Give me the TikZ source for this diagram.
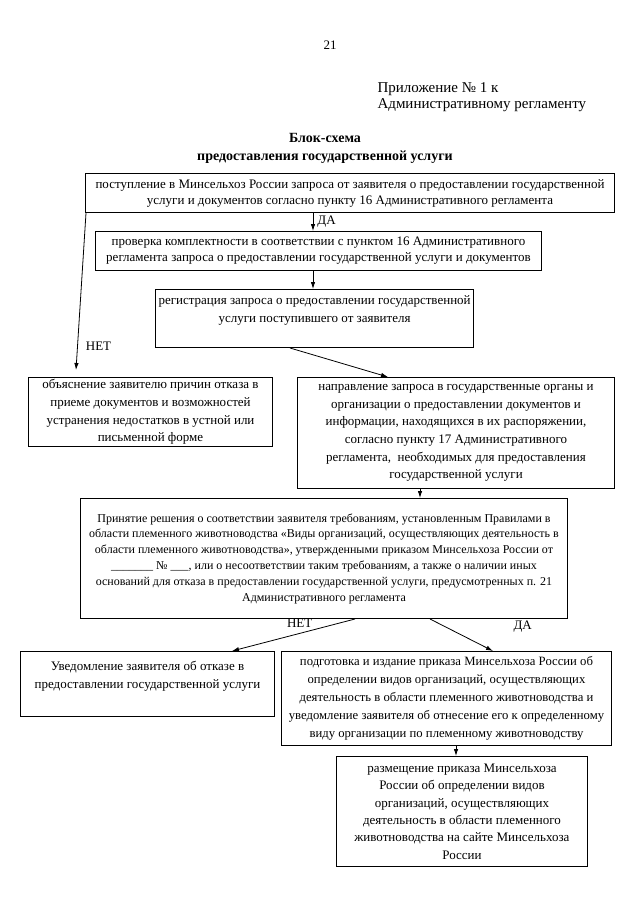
\documentclass[tikz,border=0pt]{standalone}
\usepackage{fontspec}
\setmainfont{Liberation Serif}
\usetikzlibrary{arrows.meta, calc}

\tikzset{
  blok/.style={draw, line width=1pt, align=center, anchor=north west, inner xsep=3pt, inner ysep=2pt},
  tekst/.style={font=\fontsize{13}{#1}\selectfont},
  strelka/.style={-{Latex[length=7pt,width=4.5pt]}, line width=.8pt},
  metka/.style={font=\fontsize{13}{15}\selectfont, inner sep=0pt},
}

\begin{document}
\begin{tikzpicture}[x=1pt, y=-1pt]
  \useasboundingbox (0,0) rectangle (640,905);

  % header
  \node[font=\fontsize{13}{15}\selectfont] (nomer) at (330,45) {21};
  \node[anchor=west, align=left, font=\fontsize{15}{15.5}\selectfont] (pril) at (374,97)
    {Приложение № 1 к\\Административному регламенту};
  \node[align=center, font=\bfseries\fontsize{14}{18}\selectfont] (zag) at (325,148)
    {Блок-схема\\предоставления государственной услуги};

  % blocks
  \node[blok, tekst=16, minimum width=529pt, minimum height=39pt] (b1) at (85,173)
    {поступление в Минсельхоз России запроса от заявителя о предоставлении государственной\\
     услуги и документов согласно пункту 16 Административного регламента};
  \node[blok, tekst=16, minimum width=446pt, minimum height=39pt] (b2) at (95,231)
    {проверка комплектности в соответствии с пунктом 16 Административного\\
     регламента запроса о предоставлении государственной услуги и документов};
  \node[blok, tekst=18, minimum width=317pt, minimum height=58pt] (b3) at (155,289)
    {регистрация запроса о предоставлении государственной\\
     услуги поступившего от заявителя\\ ~};
  \node[blok, tekst=17.7, minimum width=244pt, minimum height=67pt] (b4) at (28,377)
    {объяснение заявителю причин отказа в\\
     приеме документов и возможностей\\
     устранения недостатков в устной или\\
     письменной форме};
  \node[blok, tekst=17.6, minimum width=317pt, minimum height=111pt] (b5) at (297,377)
    {направление запроса в государственные органы и\\
     организации о предоставлении документов и\\
     информации, находящихся в их распоряжении,\\
     согласно пункту 17 Административного\\
     регламента,\ \ необходимых для предоставления\\
     государственной услуги};
  \node[blok, font=\fontsize{12}{15.8}\selectfont, minimum width=487pt, minimum height=120pt] (b6) at (80,498)
    {Принятие решения о соответствии заявителя требованиям, установленным Правилами в\\
     области племенного животноводства «Виды организаций, осуществляющих деятельность в\\
     области племенного животноводства», утвержденными приказом Минсельхоза России от\\
     \_\_\_\_\_\_\_ № \_\_\_, или о несоответствии таким требованиям, а также о наличии иных\\
     оснований для отказа в предоставлении государственной услуги, предусмотренных п. 21\\
     Административного регламента};
  \node[blok, tekst=18, minimum width=254pt, minimum height=65pt] (b7) at (20,651)
    {Уведомление заявителя об отказе в\\
     предоставлении государственной услуги\\ ~};
  \node[blok, font=\fontsize{12.7}{18}\selectfont, minimum width=330pt, minimum height=94pt] (b8) at (281,651)
    {подготовка и издание приказа Минсельхоза России об\\
     определении видов организаций, осуществляющих\\
     деятельность в области племенного животноводства и\\
     уведомление заявителя об отнесение его к определенному\\
     виду организации по племенному животноводству};
  \node[blok, tekst=17.4, minimum width=251pt, minimum height=110pt] (b9) at (336,756)
    {размещение приказа Минсельхоза\\
     России об определении видов\\
     организаций, осуществляющих\\
     деятельность в области племенного\\
     животноводства на сайте Минсельхоза\\
     России};

  % connectors
  \draw[strelka] ([xshift=228pt]b1.south west) -- ([xshift=218pt]b2.north west)
    node[metka, anchor=west, pos=.5, xshift=4pt] (da1) {ДА};
  \draw[strelka] ([xshift=218pt]b2.south west) -- ([xshift=158pt]b3.north west);
  \draw[strelka] ([xshift=1pt]b1.south west) -- ([xshift=48pt, yshift=7pt]b4.north west)
    node[metka, anchor=west, pos=.85, xshift=8pt] (net1) {НЕТ};
  \draw[strelka] ([xshift=135pt]b3.south west) -- ([xshift=91pt]b5.north west);
  \draw[strelka] ([xshift=123pt]b5.south west) -- ([xshift=123pt]b5.south west |- b6.north);
  \draw[strelka] ([xshift=275pt]b6.south west) -- ([xshift=212pt]b7.north west)
    node[metka, pos=.45, above=6pt] (net2) {НЕТ};
  \draw[strelka] ([xshift=350pt]b6.south west) -- ([xshift=212pt]b8.north west)
    node[metka, pos=.25, xshift=77pt] (da2) {ДА};
  \draw[strelka] ([xshift=175pt]b8.south west) -- ([xshift=175pt]b8.south west |- b9.north);
\end{tikzpicture}
\end{document}
